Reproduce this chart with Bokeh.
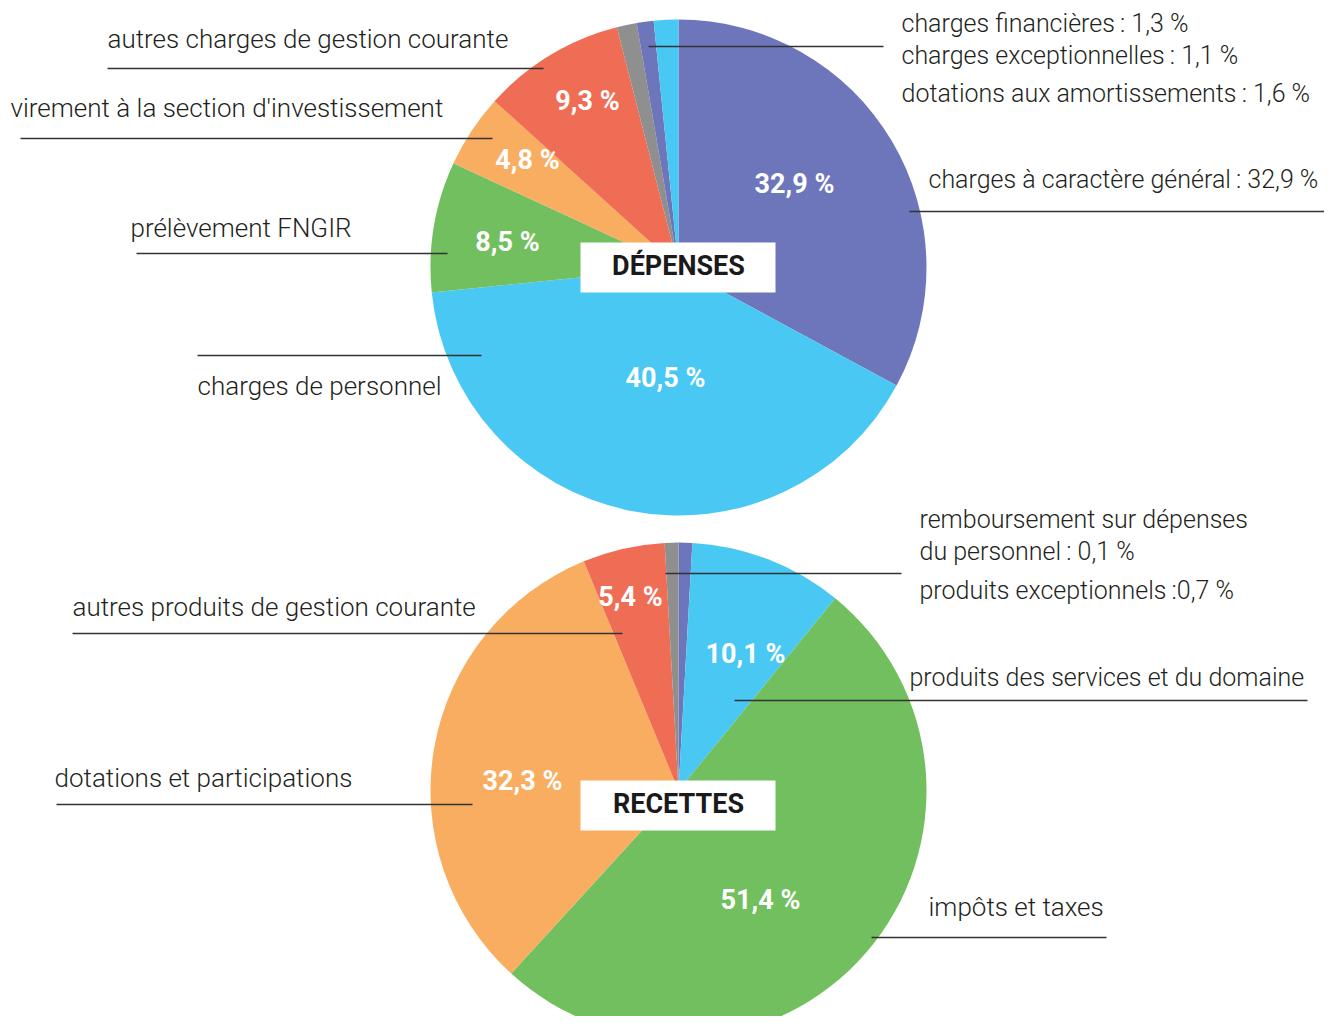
import numpy as np
from bokeh.plotting import figure
from bokeh.models import Range1d, ColumnDataSource
from bokeh.core.properties import value
from bokeh.embed import file_html
from bokeh.resources import INLINE

# ---------------- data ----------------
# DÉPENSES, clockwise from 12 o'clock
dep_names = ["charges à caractère général", "charges de personnel", "prélèvement FNGIR",
             "virement à la section d'investissement", "autres charges de gestion courante",
             "charges financières", "charges exceptionnelles", "dotations aux amortissements"]
dep_values = [32.9, 40.5, 8.5, 4.8, 9.3, 1.3, 1.1, 1.6]
dep_colors = ["#6D76BA", "#48C8F3", "#72BF5F", "#F8AD61", "#F06D55", "#8F8F8F", "#6D76BA", "#48C8F3"]
dep_pct = ["32,9 %", "40,5 %", "8,5 %", "4,8 %", "9,3 %"]

# RECETTES, clockwise from 12 o'clock (small slices drawn as in the picture)
rec_names = ["remboursement sur dépenses du personnel", "produits des services et du domaine",
             "impôts et taxes", "dotations et participations",
             "autres produits de gestion courante", "produits exceptionnels"]
rec_values = [0.9, 10.1, 51.4, 32.3, 5.4, 0.9]
rec_colors = ["#6D76BA", "#48C8F3", "#72BF5F", "#F8AD61", "#F06D55", "#8F8F8F"]
rec_pct = ["10,1 %", "51,4 %", "32,3 %", "5,4 %"]

# ---------------- layout ----------------
W, H = 1324, 1016
p = figure(width=W, height=H, output_backend="svg", toolbar_location=None,
           x_range=Range1d(0, W), y_range=Range1d(-H, 0),
           x_axis_type=None, y_axis_type=None, min_border=0)
p.outline_line_color = None
p.background_fill_color = "white"
p.border_fill_color = "white"

R = 248
LABEL_FONT = value("Roboto Light, Roboto")
BOLD_FONT = value("Roboto")
TXT = "#231F20"


def pie(cx, cy, vals, colors):
    v = np.array(vals, dtype=float)
    frac = v / v.sum()
    cum = np.concatenate([[0.0], np.cumsum(frac)])
    start = np.pi / 2 - 2 * np.pi * cum[:-1]
    end = np.pi / 2 - 2 * np.pi * cum[1:]
    src = ColumnDataSource(dict(start=start, end=end, color=colors))
    p.wedge(x=cx, y=-cy, radius=R, start_angle="start", end_angle="end",
            direction="clock", fill_color="color", line_color=None, source=src)


pie(678, 267, dep_values, dep_colors)
pie(678, 790, rec_values, rec_colors)

# leader lines (x0, x1, y) in page pixels
lines = [
    (107, 543, 68), (20, 492, 138), (136, 447, 253), (197, 481, 355),
    (648, 883, 46), (909, 1340, 211),
    (665, 901, 573), (72, 622, 633), (734, 1307, 700), (56, 472, 804), (871, 1106, 937),
]
p.segment(x0=[l[0] for l in lines], x1=[l[1] for l in lines],
          y0=[-l[2] for l in lines], y1=[-l[2] for l in lines],
          line_color="#333333", line_width=1.4)

# category labels on the left / plain labels (text, x, y-centre)
labels = [
    ("autres charges de gestion courante", 107, 38),
    ("virement à la section d'investissement", 10, 107),
    ("prélèvement FNGIR", 130, 227),
    ("charges de personnel", 197, 385),
    ("autres produits de gestion courante", 72, 606),
    ("dotations et participations", 54, 777),
    ("impôts et taxes", 928, 906),
]
p.text(x=[l[1] for l in labels], y=[-l[2] for l in labels], text=[l[0] for l in labels],
       text_font=LABEL_FONT, text_font_size="26px", text_color=TXT,
       text_align="left", text_baseline="middle")

# labels on the right (slightly smaller so they stay inside the page)
rlabels = [
    ("charges financières\u2009: 1,3 %", 901, 23),
    ("charges exceptionnelles\u2009: 1,1 %", 901, 55),
    ("dotations aux amortissements\u2009: 1,6 %", 901, 93),
    ("charges à caractère général\u2009: 32,9 %", 928, 179),
    ("remboursement sur dépenses", 919, 519),
    ("du personnel\u2009: 0,1 %", 919, 551),
    ("produits exceptionnels\u2009:0,7 %", 919, 590),
    ("produits des services et du domaine", 909, 677),
]
p.text(x=[l[1] for l in rlabels], y=[-l[2] for l in rlabels], text=[l[0] for l in rlabels],
       text_font=LABEL_FONT, text_font_size="25px", text_color=TXT,
       text_align="left", text_baseline="middle")

# percentage labels inside slices
pct_pos = [(794, 183), (665, 377), (507, 241), (527, 159), (587, 100),
           (745, 653), (760, 899), (522, 780), (630, 596)]
pct_txt = dep_pct + rec_pct
p.text(x=[q[0] for q in pct_pos], y=[-q[1] for q in pct_pos], text=pct_txt,
       text_font=BOLD_FONT, text_font_style="bold", text_font_size="27px",
       text_color="white", text_align="center", text_baseline="middle")

# title boxes
p.rect(x=[677.5, 677.5], y=[-267, -805], width=195, height=50,
       fill_color="white", line_color=None)
p.text(x=[678, 678], y=[-265, -803], text=["DÉPENSES", "RECETTES"],
       text_font=BOLD_FONT, text_font_style="bold", text_font_size="27px",
       text_color="#1A1A1A", text_align="center", text_baseline="middle")

open("out.html", "w").write(file_html(p, INLINE))
